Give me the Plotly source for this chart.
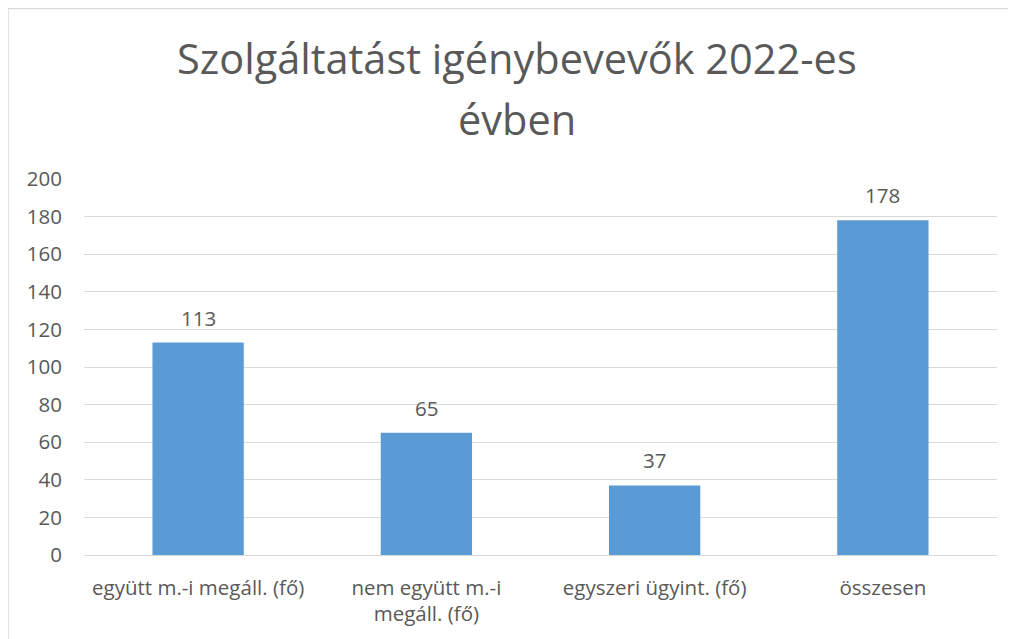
import plotly.graph_objects as go

categories = ["együtt m.-i megáll. (fő)", "nem együtt m.-i<br>megáll. (fő)", "egyszeri ügyint. (fő)", "összesen"]
values = [113, 65, 37, 178]
title_lines = ["Szolgáltatást igénybevevők 2022-es", "évben"]
y_ticks = [0, 20, 40, 60, 80, 100, 120, 140, 160, 180, 200]

# page has an 8px body margin; figure coordinates are page - 8
W, H = 1008, 631
ml, mr, mt, mb = 76, 19, 171, 84
pw, ph = W - ml - mr, H - mt - mb

FONT = "Open Sans"
TXT = "#595959"
GRID = "#d9d9d9"

fig = go.Figure()
fig.add_trace(go.Bar(x=categories, y=values, marker=dict(color="#5b9bd5", line=dict(width=0)),
                     hoverinfo="x+y"))

for c, v in zip(categories, values):
    fig.add_annotation(x=c, y=v, xref="x", yref="y", text=str(v), showarrow=False,
                       yanchor="bottom", yshift=9, font=dict(family=FONT, size=20.5, color=TXT))

# title lines (centre positions in figure pixels)
title_cx = (509 - ml) / pw
for line, ypx in zip(title_lines, [50, 111]):
    fig.add_annotation(x=title_cx, xref="paper", y=(H - mb - ypx) / ph, yref="paper",
                       text=line, showarrow=False, xanchor="center", yanchor="middle",
                       font=dict(family=FONT, size=41.5, color=TXT))

# chart border
fig.add_shape(type="rect", xref="paper", yref="paper",
              x0=(0 - ml) / pw, x1=(1030 - ml) / pw,
              y0=(H - mb - 660) / ph, y1=(H - mb - 0.5) / ph,
              line=dict(color=GRID, width=1.5), layer="below")

fig.update_layout(
    width=W, height=H,
    margin=dict(l=ml, r=mr, t=mt, b=mb, pad=0),
    paper_bgcolor="white", plot_bgcolor="white",
    bargap=0.6,
    showlegend=False,
    font=dict(family=FONT, color=TXT, size=20.5),
    xaxis=dict(showgrid=False, showline=False, zeroline=False, ticks="",
               tickfont=dict(family=FONT, size=20.5, color=TXT), ticklabelstandoff=18),
    yaxis=dict(range=[0, 200], tickvals=y_ticks, showgrid=True, gridcolor=GRID, gridwidth=1,
               zeroline=True, zerolinecolor=GRID, zerolinewidth=1, showline=False, ticks="",
               tickfont=dict(family=FONT, size=20.5, color=TXT), ticklabelstandoff=21),
)

fig.write_html("out.html")
